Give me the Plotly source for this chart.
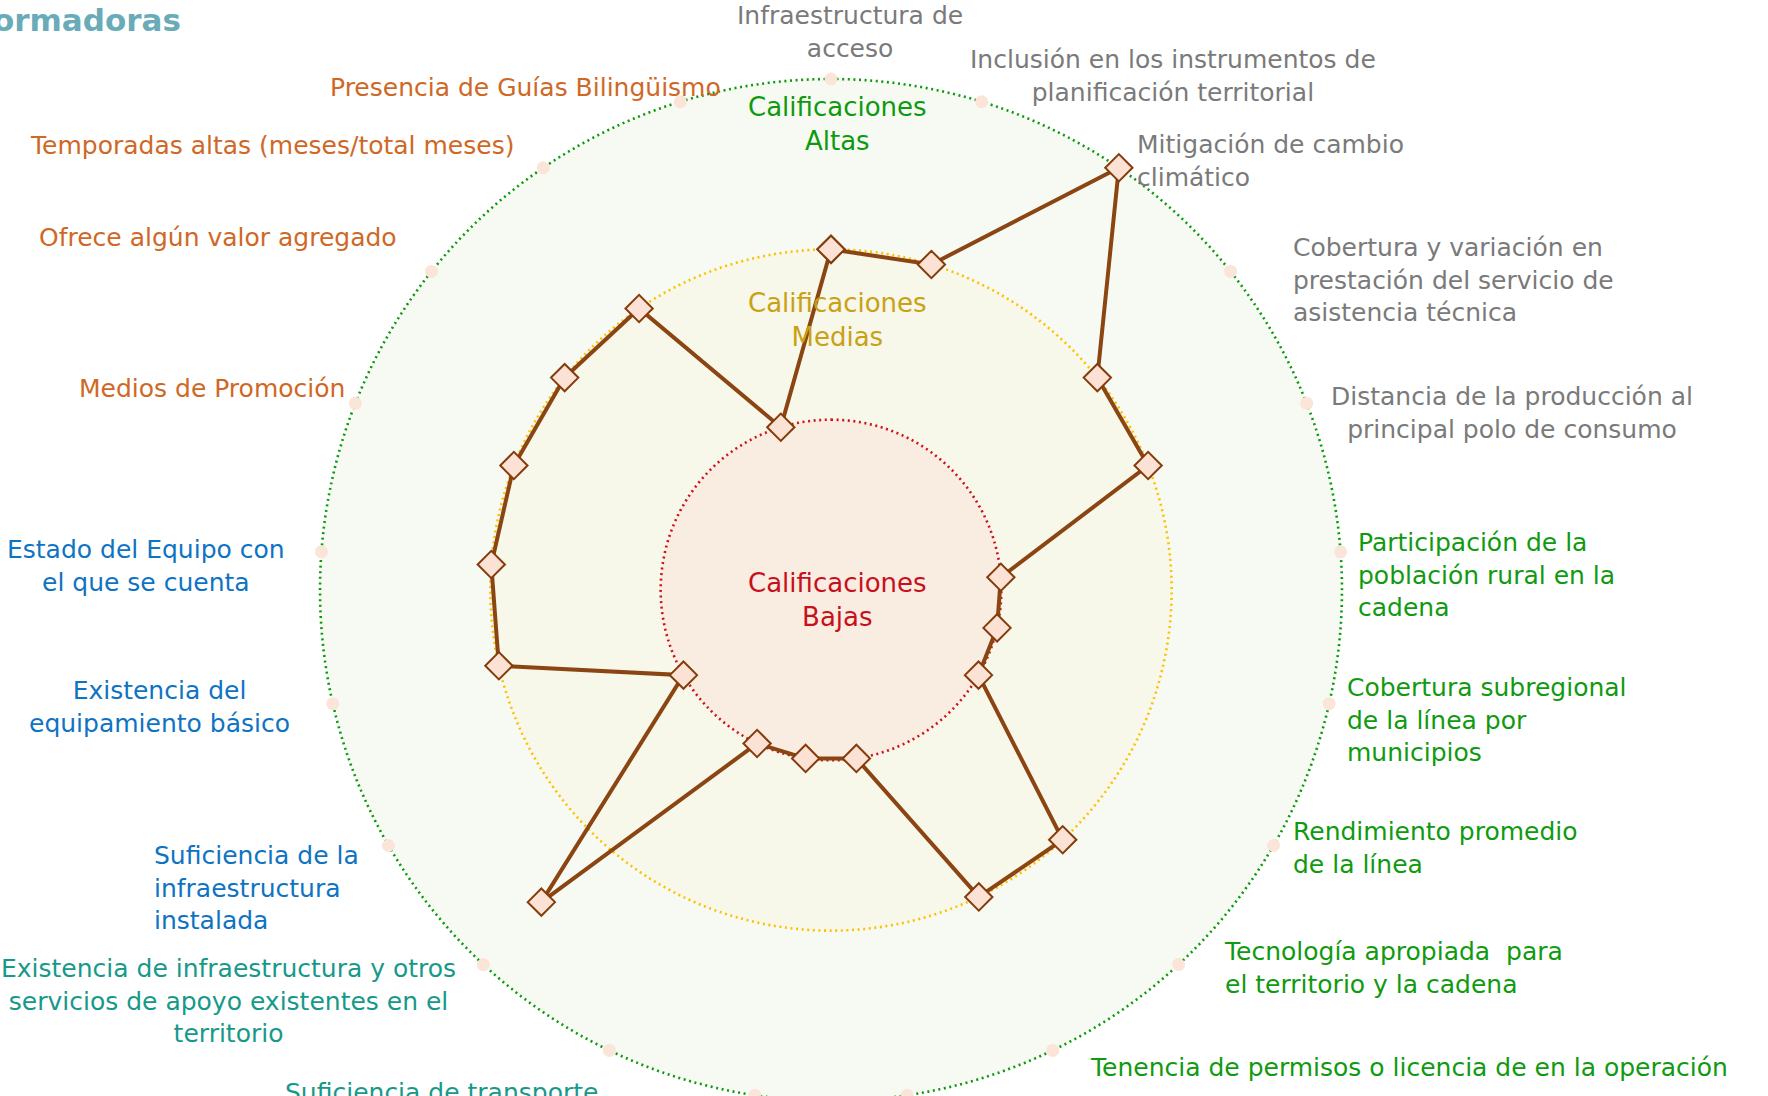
import plotly.graph_objects as go

# criterios evaluados (en el sentido de las agujas del reloj, desde arriba)
categories = [
    "Infraestructura de acceso",
    "Inclusión en los instrumentos de planificación territorial",
    "Mitigación de cambio climático",
    "Cobertura y variación en prestación del servicio de asistencia técnica",
    "Distancia de la producción al principal polo de consumo",
    "Participación de la población rural en la cadena",
    "Cobertura subregional de la línea por municipios",
    "Rendimiento promedio de la línea",
    "Tecnología apropiada  para el territorio y la cadena",
    "Tenencia de permisos o licencia de en la operación",
    "Acceso a servicios financieros",
    "Organización de productores",
    "Suficiencia de transporte",
    "Existencia de infraestructura y otros servicios de apoyo existentes en el territorio",
    "Suficiencia de la infraestructura instalada",
    "Existencia del equipamiento básico",
    "Estado del Equipo con el que se cuenta",
    "Medios de Promoción",
    "Ofrece algún valor agregado",
    "Temporadas altas (meses/total meses)",
    "Presencia de Guías Bilingüismo",
]

scores = [2, 2, 3, 2, 2, 1, 1, 1, 2, 2, 1, 1, 1, 2.5, 1, 2, 2, 2, 2, 2, 1]

tick_labels = [
    "Infraestructura de<br>acceso",
    "Inclusión en los instrumentos de<br>planificación territorial",
    "Mitigación de cambio<br>climático",
    "Cobertura y variación en<br>prestación del servicio de<br>asistencia técnica",
    "Distancia de la producción al<br>principal polo de consumo",
    "Participación de la<br>población rural en la<br>cadena",
    "Cobertura subregional<br>de la línea por<br>municipios",
    "Rendimiento promedio<br>de la línea",
    "Tecnología apropiada  para<br>el territorio y la cadena",
    "Tenencia de permisos o licencia de en la operación",
    "Acceso a servicios financieros",
    "Organización de productores",
    "Suficiencia de transporte",
    "Existencia de infraestructura y otros<br>servicios de apoyo existentes en el<br>territorio",
    "Suficiencia de la<br>infraestructura<br>instalada",
    "Existencia del<br>equipamiento básico",
    "Estado del Equipo con<br>el que se cuenta",
    "Medios de Promoción",
    "Ofrece algún valor agregado",
    "Temporadas altas (meses/total meses)",
    "Presencia de Guías Bilingüismo",
]

label_groups = (["gris"] * 5 + ["verde"] * 7 + ["turquesa"] * 2
                + ["azul"] * 3 + ["naranja"] * 4)

band_names = ["Calificaciones<br>Altas", "Calificaciones<br>Medias", "Calificaciones<br>Bajas"]
band_levels = [3, 2, 1]

title_text = "Transformadoras"

# ---- estilo ----
W, H = 1768, 1120
FONT = "DejaVu Sans"
group_colors = {"gris": "#7A7A7A", "verde": "#109A10", "turquesa": "#17998A",
                "azul": "#0F73C3", "naranja": "#CF6826"}
band_fill = ["#F7FAF3", "#F7F7EA", "#F9ECE1"]
band_line = ["#0A9A0A", "#FFC000", "#D0101A"]
band_text = ["#0E9A0E", "#C9A114", "#C8101C"]
band_text_y = [124, 320, 600]

# posicion de cada etiqueta en px (x, y, anclaje); None = fuera de la imagen
label_pos = [
    (850, 32, "center"), (1173, 76, "center"), (1135, 161, "left"),
    (1291, 280, "left"), (1512, 413, "center"), (1356, 575, "left"),
    (1345, 720, "left"), (1291, 848, "left"), (1222, 968, "left"),
    (1088, 1067, "left"), None, None, (441, 1092, "center"),
    (228, 1001, "center"), (152, 888, "left"), (159, 707, "center"),
    (146, 566, "center"), (347, 388, "right"), (399, 237, "right"),
    (516, 146, "right"), (723, 87, "right"),
]

cx, cy, r3 = 831, 590, 511
rmax = 3.05
R = r3 * rmax / 3
dom = dict(x=[(cx - R) / W, (cx + R) / W], y=[1 - (cy + R) / H, 1 - (cy - R) / H])


def px(x):
    return x / W


def py(y):
    return 1 - y / H


fig = go.Figure()

ring_theta = list(range(0, 361))
for lvl, fc, lc in zip(band_levels, band_fill, band_line):
    fig.add_trace(go.Scatterpolar(
        r=[lvl] * len(ring_theta), theta=ring_theta, mode="lines",
        fill="toself", fillcolor=fc,
        line=dict(color=lc, width=2.6, dash="2px,3.6px"),
        hoverinfo="skip", subplot="polar",
    ))

fig.add_trace(go.Scatterpolar(
    r=[3] * len(categories), theta=categories, mode="markers",
    marker=dict(symbol="circle", size=13, color="#FBE4D8"),
    cliponaxis=False, hoverinfo="skip", subplot="polar2",
))

fig.add_trace(go.Scatterpolar(
    r=scores + scores[:1], theta=categories + categories[:1],
    mode="lines+markers",
    line=dict(color="#8B4513", width=4),
    marker=dict(symbol="diamond", size=21, color="#FCE2D4",
                line=dict(color="#843C0C", width=2)),
    cliponaxis=False, subplot="polar2",
))

polar_common = dict(
    domain=dom, bgcolor="rgba(0,0,0,0)", hole=0,
    radialaxis=dict(visible=False, range=[0, rmax]),
)
fig.update_layout(
    polar=dict(**polar_common,
               angularaxis=dict(visible=False, rotation=90, direction="clockwise")),
    polar2=dict(**polar_common,
                angularaxis=dict(visible=False, rotation=90, direction="clockwise",
                                 type="category", categoryarray=categories)),
)

annotations = []
for text, grp, pos in zip(tick_labels, label_groups, label_pos):
    if pos is None:
        continue
    x, y, anchor = pos
    annotations.append(dict(
        x=px(x), y=py(y), xref="paper", yref="paper", text=text,
        xanchor=anchor, yanchor="middle", align=anchor, showarrow=False,
        font=dict(family=FONT, size=25, color=group_colors[grp]),
    ))

for name, col, y in zip(band_names, band_text, band_text_y):
    annotations.append(dict(
        x=px(837), y=py(y), xref="paper", yref="paper", text=name,
        xanchor="center", yanchor="middle", align="center", showarrow=False,
        font=dict(family=FONT, size=26, color=col),
    ))

annotations.append(dict(
    x=px(183), y=py(20), xref="paper", yref="paper", text="<b>" + title_text + "</b>",
    xanchor="right", yanchor="middle", showarrow=False,
    font=dict(family=FONT, size=31, color="#69ABB8"),
))

fig.update_layout(
    width=W, height=H,
    margin=dict(l=0, r=0, t=0, b=0, autoexpand=False),
    paper_bgcolor="white",
    showlegend=False,
    annotations=annotations,
)

fig.write_html(
    "out.html",
    config={"displayModeBar": False},
    post_script="document.body.style.margin='0';document.body.style.overflow='hidden';",
)
